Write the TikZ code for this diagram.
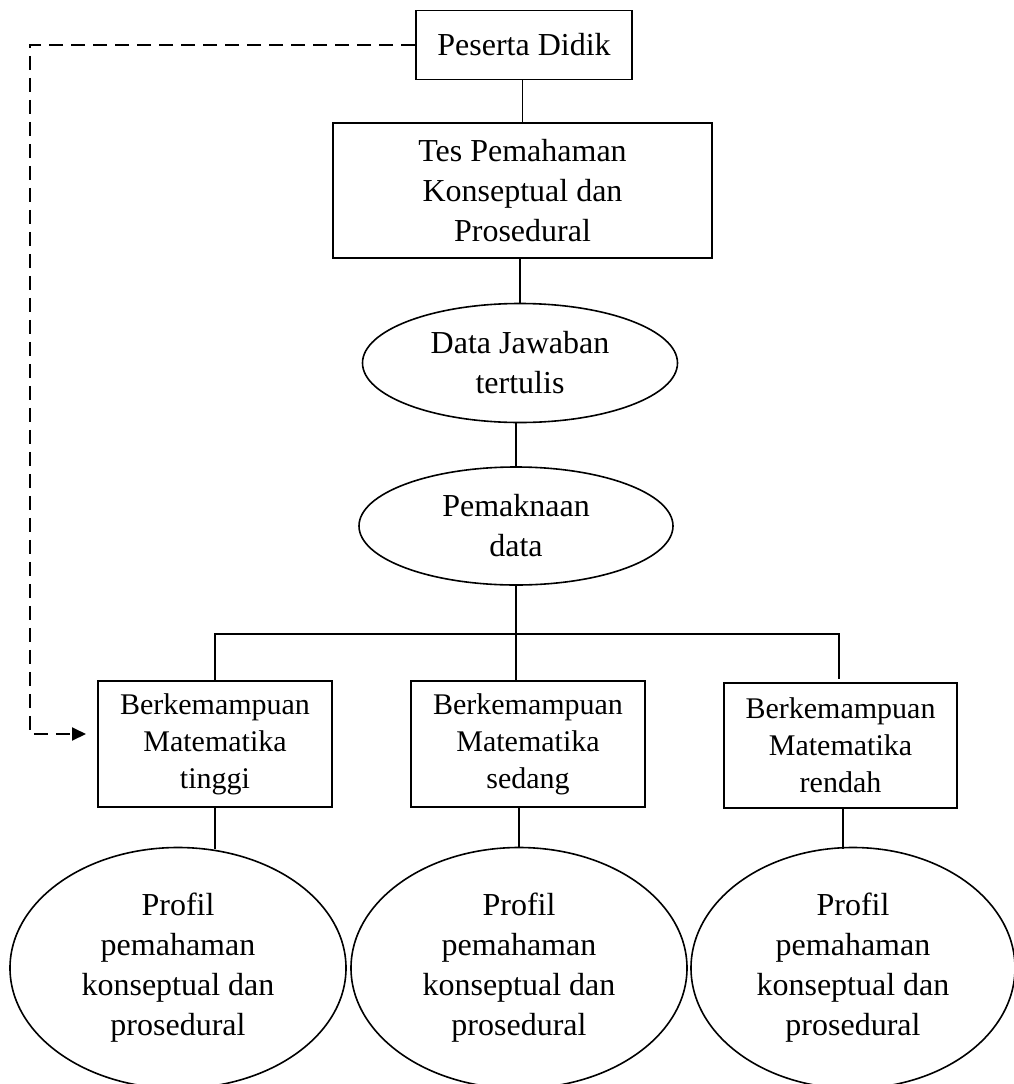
\documentclass[tikz,border=0pt]{standalone}
\usepackage{fontspec}
\setmainfont{Liberation Serif}
\usetikzlibrary{shapes.geometric,arrows.meta,calc}
\begin{document}
\begin{tikzpicture}[x=1pt,y=-1pt,
  every node/.style={inner sep=0pt, align=center},
  bigtxt/.style={font=\fontsize{32}{40}\selectfont},
  midtxt/.style={font=\fontsize{30}{37}\selectfont},
  boxnode/.style={draw, line width=1.9pt},
  ovalnode/.style={draw, ellipse, line width=1.6pt},
  conn/.style={line width=1.9pt},
  dsh/.style={line width=1.9pt, dash pattern=on 14pt off 8pt}]
\useasboundingbox (0,0) rectangle (1014,1084);

\node[boxnode,bigtxt,minimum width=216pt,minimum height=69pt] (pd) at (524,45) {Peserta Didik};
\node[boxnode,bigtxt,minimum width=379pt,minimum height=135pt] (tes) at (522.5,190.5) {Tes Pemahaman\\Konseptual dan\\Prosedural};
\node[ovalnode,bigtxt,minimum width=315pt,minimum height=119pt] (d1) at (520,363) {Data Jawaban\\tertulis};
\node[ovalnode,bigtxt,minimum width=314pt,minimum height=118pt] (d2) at (516,526) {Pemaknaan\\data};

\node[boxnode,midtxt,minimum width=234pt,minimum height=126pt] (b1) at (215,744) {Berkemampuan\\Matematika\\tinggi};
\node[boxnode,midtxt,minimum width=234pt,minimum height=126pt] (b2) at (528,744) {Berkemampuan\\Matematika\\sedang};
\node[boxnode,midtxt,minimum width=233pt,minimum height=125pt] (b3) at (840.5,745.5) {Berkemampuan\\Matematika\\rendah};

\node[ovalnode,bigtxt,minimum width=336pt,minimum height=241pt] (p1) at (178,968) {Profil\\pemahaman\\konseptual dan\\prosedural};
\node[ovalnode,bigtxt,minimum width=336pt,minimum height=241pt] (p2) at (519,968) {Profil\\pemahaman\\konseptual dan\\prosedural};
\node[ovalnode,bigtxt,minimum width=324pt,minimum height=241pt] (p3) at (853,968) {Profil\\pemahaman\\konseptual dan\\prosedural};

% vertical chain
\draw[conn] (pd.south -| tes.north) -- (tes.north);
\draw[conn] (tes.south -| d1.north) -- (d1.north);
\draw[conn] (d1.south -| d2.north) -- (d2.north);

% branching
\coordinate (j) at (516,634);
\draw[conn] (d2.south) -- (j);
\draw[conn] (b1.north) |- (j);
\draw[conn] (j) -- (j |- b2.north);
\draw[conn, shorten >=4pt] (j) -| (839,683);

% boxes to profile ellipses
\draw[conn] (b1.south) -- ($(b1.south |- p1.north)+(0,2)$);
\draw[conn] (p2.north |- b2.south) -- (p2.north);
\draw[conn] (843,808) -- (843,849);

% dashed feedback
\coordinate (c2) at (30,734);
\coordinate (tip) at (86,734);
\draw[dsh, -{Triangle[length=14pt,width=13pt]}] (pd.west) -| (c2) -- (tip);
\end{tikzpicture}
\end{document}
